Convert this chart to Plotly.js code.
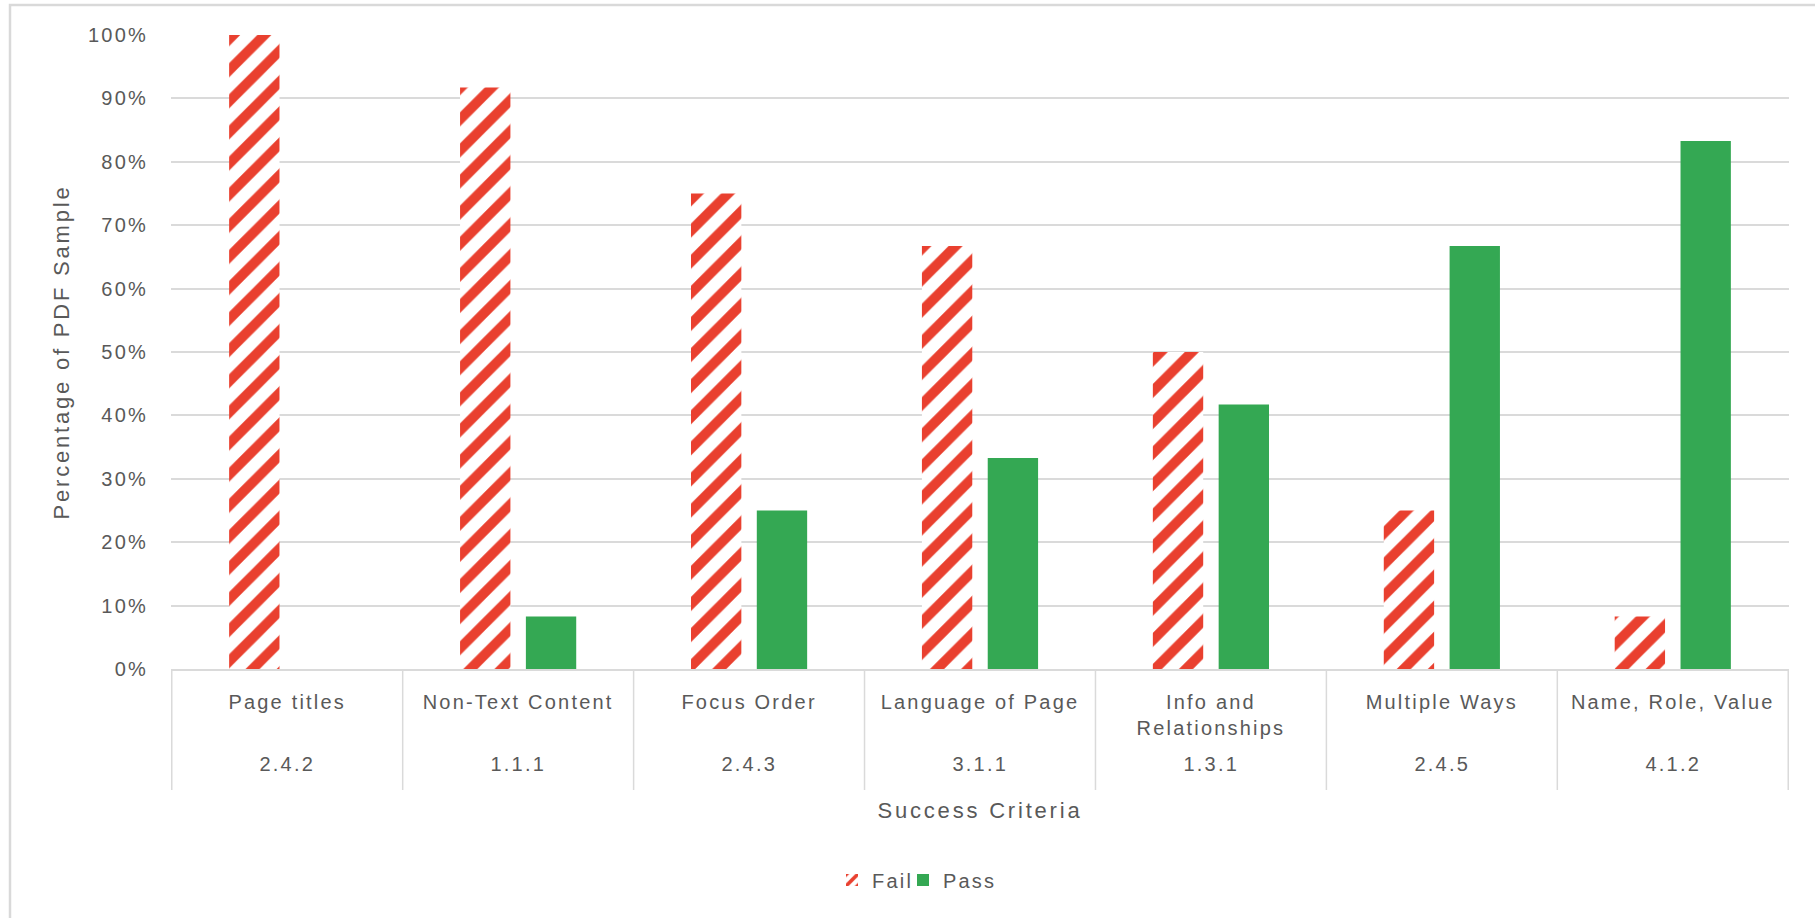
<!DOCTYPE html>
<html><head><meta charset="utf-8">
<script src="https://cdn.plot.ly/plotly-3.0.1.min.js"></script>
<style>
html,body{margin:0;padding:0;background:#fff;}
#chart{width:1815px;height:918px;}
#chart text{letter-spacing:2.2px;}
#chart .g-xtitle text, #chart .g-ytitle text{letter-spacing:2.8px;}
</style></head><body><div id="chart"></div>
<script>
const criteria = ["Page titles","Non-Text Content","Focus Order","Language of Page","Info and<br>Relationships","Multiple Ways","Name, Role, Value"];
const codes = ["2.4.2","1.1.1","2.4.3","3.1.1","1.3.1","2.4.5","4.1.2"];
const failPct = [1.0, 0.917, 0.75, 0.667, 0.5, 0.25, 0.083];
const passPct = [0, 0.083, 0.25, 0.333, 0.417, 0.667, 0.833];
const yTickVals = [0,0.1,0.2,0.3,0.4,0.5,0.6,0.7,0.8,0.9,1.0];

const TXT = '#595959', GRID = '#dadada';
const FONT = 'Liberation Sans, Arial, sans-serif';
const W = 1815, H = 918, L = 171, R = 26, T = 35, B = 249;
const pw = W - L - R, ph = H - T - B;
const px2x = p => (p - L) / pw;
const px2y = p => (H - B - p) / ph;

const traces = [
  {type:'bar', name:'Fail', x:criteria, y:failPct, legend:'legend',
   marker:{color:'#ffffff', line:{width:0},
     pattern:{shape:'/', fgcolor:'#E9402F', bgcolor:'#ffffff', fgopacity:1, size:22, solidity:0.45, fillmode:'replace'}},
   hoverinfo:'y'},
  {type:'bar', name:'Pass', x:criteria, y:passPct, legend:'legend2',
   marker:{color:'#34A853', line:{width:0}}, hoverinfo:'y'}
];

const shapes = [];
for (let i = 0; i <= criteria.length; i++) {
  shapes.push({type:'line', xref:'x', yref:'paper', x0:i-0.5, x1:i-0.5,
    y0:0, y1:px2y(790), line:{color:GRID, width:1.5}, layer:'above'});
}
// outer chart frame (left and top edges visible)
shapes.push({type:'rect', xref:'paper', yref:'paper', x0:px2x(10), x1:px2x(1900),
  y0:px2y(1000), y1:px2y(5), line:{color:'#d9d9d9', width:2.5}, layer:'below'});

const annotations = codes.map((c, i) => ({
  xref:'x', yref:'paper', x:criteria[i], y:px2y(764), text:c, showarrow:false,
  xanchor:'center', yanchor:'middle', font:{family:FONT, size:20, color:TXT}
}));

const legendBase = {orientation:'h', xanchor:'left', y:px2y(880), yanchor:'middle',
  font:{family:FONT, size:20, color:TXT}, bgcolor:'rgba(0,0,0,0)', entrywidth:120, entrywidthmode:'pixels'};

const layout = {
  width:W, height:H,
  margin:{l:L, r:R, t:T, b:B, pad:0},
  paper_bgcolor:'#ffffff', plot_bgcolor:'#ffffff',
  font:{family:FONT, size:20, color:TXT},
  barmode:'group', bargap:0.43, bargroupgap:0.235,
  showlegend:true,
  legend:Object.assign({}, legendBase, {x:px2x(832)}),
  legend2:Object.assign({}, legendBase, {x:px2x(903)}),
  xaxis:{type:'category', showgrid:false, zeroline:false, showline:true, linecolor:GRID, linewidth:2,
    ticks:'', ticklabelstandoff:14, tickfont:{family:FONT, size:20, color:TXT},
    title:{text:'Success Criteria', font:{family:FONT, size:22, color:TXT}, standoff:65},
    automargin:false, fixedrange:true},
  yaxis:{range:[0,1], tickvals:yTickVals, tickformat:'.0%', showgrid:true, gridcolor:GRID, gridwidth:2,
    zeroline:false, showline:false, ticks:'', ticklabelstandoff:22,
    tickfont:{family:FONT, size:20, color:TXT},
    title:{text:'Percentage of PDF Sample', font:{family:FONT, size:22, color:TXT}, standoff:21},
    automargin:false, fixedrange:true},
  shapes:shapes,
  annotations:annotations
};

Plotly.newPlot('chart', traces, layout, {displayModeBar:false, staticPlot:false});
</script></body></html>
